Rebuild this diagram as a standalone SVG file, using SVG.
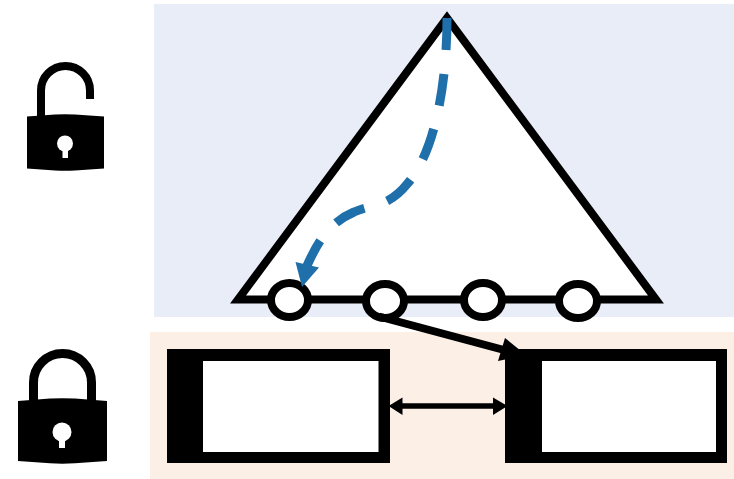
<svg xmlns="http://www.w3.org/2000/svg" width="734" height="479" viewBox="0 0 734 479">
<style>
.k{fill:#000}.w{fill:#fff}
.s{fill:none;stroke:#000}
.n{fill:#fff;stroke:#000;stroke-width:8}
</style>
<rect id="trusted-bg" x="154" y="4" width="580" height="313" fill="#e9edf8"/>
<rect id="secure-bg" x="150" y="332" width="584" height="147" fill="#fcefe6"/>
<g id="lock-open">
<path class="s" stroke-width="8" d="M41,118V90.500A24.500,24.500 0 0 1 90,90.500V99"/>
<path class="k" d="M27,116.500L55,114.500Q65,113.800 75,114.500L104,116.500V168.500L75,170.500Q65,171.200 55,170.500L27,168.500Z"/>
<circle class="w" cx="65" cy="143.500" r="8"/>
<rect class="w" x="62.500" y="146" width="5.500" height="12"/>
</g>
<g id="lock-closed">
<path class="s" stroke-width="9" d="M33.500,402V382.500A29,29 0 0 1 91.500,382.500V402"/>
<path class="k" d="M18,401L50,398.500Q62,397.800 75,398.500L107,401V461L75,463.300Q62,464.200 50,463.300L18,461Z"/>
<circle class="w" cx="62" cy="432" r="9.500"/>
<rect class="w" x="59" y="435" width="6" height="13"/>
</g>
<g id="tree">
<polygon points="447,18 238,299.500 656,299.500" fill="#fff" stroke="#000" stroke-width="8"/>
</g>
<g id="node-1"><ellipse class="n" cx="289.500" cy="300" rx="18.500" ry="17"/></g>
<g id="node-2"><ellipse class="n" cx="385" cy="301" rx="19" ry="17"/></g>
<g id="node-3"><ellipse class="n" cx="483" cy="300" rx="19" ry="17"/></g>
<g id="node-4"><ellipse class="n" cx="578" cy="301" rx="19" ry="17"/></g>
<g id="box-left">
<rect class="k" x="167" y="349" width="223" height="114"/>
<rect class="w" x="203" y="361" width="175.500" height="91"/>
</g>
<g id="box-right">
<rect class="k" x="505" y="349" width="222" height="114"/>
<rect class="w" x="542" y="361" width="174" height="91"/>
</g>
<g id="connectors">
<path class="s" stroke-width="8" d="M379,316.500L504,350"/>
<polygon class="k" points="505,338 526,355 498,361"/>
<path class="s" stroke-width="5.500" d="M398,406H500"/>
<polygon class="k" points="388.500,406 402.500,397.500 402.500,415"/>
<polygon class="k" points="507.500,406 493,397.500 493,415"/>
<path d="M447,18C447,80 436,150 408,183C388,208 374,203 354,212C328,223 316,245 306,268" fill="none" stroke="#1f6fab" stroke-width="9" stroke-dasharray="32 24"/>
<polygon points="302,287 295.500,262 319,267.500" fill="#1f6fab"/>
</g>
</svg>
